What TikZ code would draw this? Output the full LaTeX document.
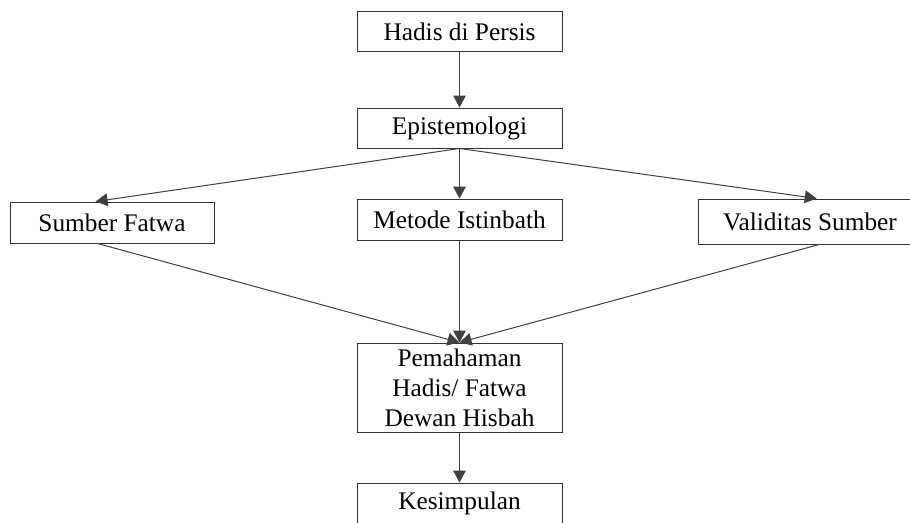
\documentclass[tikz,border=0pt]{standalone}
\usepackage{fontspec}
\setmainfont{Liberation Serif}
\usetikzlibrary{arrows.meta,calc}

\tikzset{every picture/.style={line width=0.75pt}}
\tikzset{
	kotak/.style={draw=black!80, fill=white, inner sep=0pt, minimum width=153.75pt, minimum height=30pt,
		font=\fontsize{19}{22.5}\selectfont, align=center},
	panah/.style={draw=black!75, -{Triangle[length=9pt,width=9.5pt]}},
	garis/.style={draw=black!75}
}

\begin{document}
\begin{tikzpicture}[x=0.75pt,y=0.75pt,yscale=-1,xscale=1]
	\useasboundingbox (0,0) rectangle (910,522);
	\clip (0,0) rectangle (910,522);
	
	% Boxes
	\node [kotak] (hadis) at (459.5,31.5) {Hadis di Persis};
	\node [kotak] (epi) at (459.5,128) {Epistemologi};
	\node [kotak, minimum width=153pt, minimum height=30.75pt] (sumber) at (112,222.5) {Sumber Fatwa};
	\node [kotak, minimum height=30.75pt] (metode) at (459.5,219.5) {Metode Istinbath};
	\node [kotak, minimum width=168pt, minimum height=33.75pt] (valid) at (810,221.5) {Validitas Sumber};
	\node [kotak, minimum height=66.75pt] (paham) at (459.5,387.5) {Pemahaman\\Hadis/ Fatwa\\Dewan Hisbah};
	\node [kotak, minimum height=30.75pt] (simpul) at (459.5,503.5) {Kesimpulan};
	
	% Arrows
	\draw [panah] (hadis.south) -- (epi.north);
	\draw [panah] (epi.south) -- ($(sumber.north west)!0.42!(sumber.north east)$);
	\draw [panah] (epi.south) -- (metode.north);
	\draw [panah] (epi.south) -- ($(valid.north west)!0.53!(valid.north east)$);
	\draw [panah] ($(sumber.south west)!0.43!(sumber.south east)$) -- (paham.north);
	\draw [panah] (metode.south) -- (paham.north);
	\draw [panah] ($(valid.south west)!0.54!(valid.south east)$) -- (paham.north);
	\draw [panah] (paham.south) -- (simpul.north);
	
\end{tikzpicture}
\end{document}
